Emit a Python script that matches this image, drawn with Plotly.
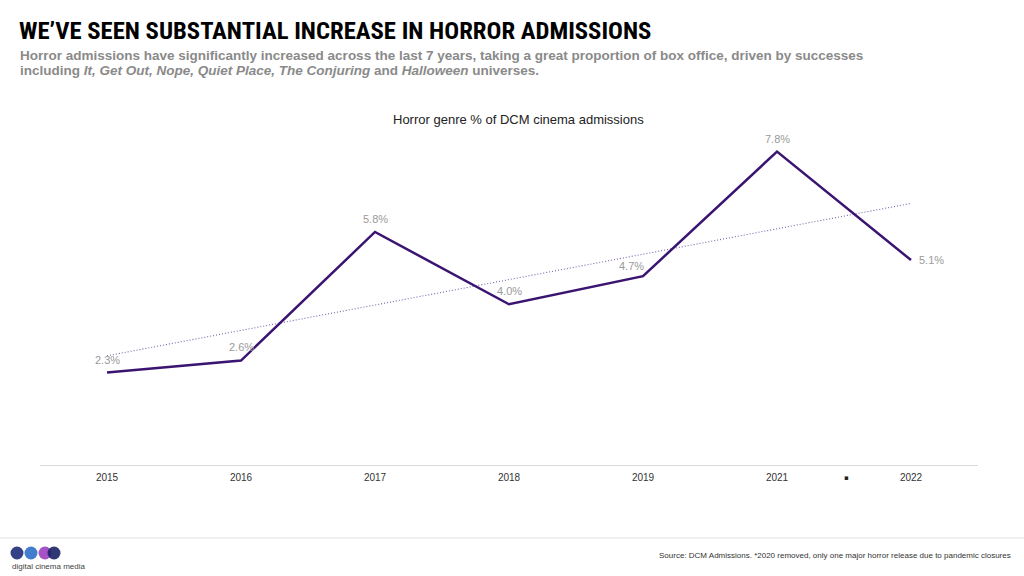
import numpy as np
import plotly.graph_objects as go

years = ["2015", "2016", "2017", "2018", "2019", "2021", "2022"]
share = [2.3, 2.6, 5.8, 4.0, 4.7, 7.8, 5.1]
label_dx = [0, 0, 0, 0, -12, 0, 6]
label_dy = [13, 14, 13, 13, 10, 13, 0]
label_anchor = ["center", "center", "center", "center", "center", "center", "left"]

W, H = 1024, 576
def px(x): return x / W
def py(y): return 1 - y / H

xi = np.arange(len(years))
slope, intercept = np.polyfit(xi, share, 1)
trend = intercept + slope * xi

fig = go.Figure()
fig.add_trace(go.Scatter(
    x=xi, y=trend, mode="lines",
    line=dict(color="#7a62a8", width=1.1, dash="1px,2px"),
    hoverinfo="skip", showlegend=False))
fig.add_trace(go.Scatter(
    x=xi, y=share, mode="lines",
    line=dict(color="#3a1470", width=2.5),
    showlegend=False))

annotations = [
    dict(text="<b>WE\u2019VE SEEN SUBSTANTIAL INCREASE IN HORROR ADMISSIONS</b>",
         x=px(17), y=py(30), xref="paper", yref="paper", xanchor="left", yanchor="middle",
         showarrow=False,
         font=dict(family="Roboto Condensed, Roboto", size=24.7, color="#000000"),
         ),
    dict(text="<b>Horror admissions have significantly increased across the last 7 years, taking a great proportion of box office, driven by successes</b>",
         x=px(18), y=py(56), xref="paper", yref="paper", xanchor="left", yanchor="middle",
         showarrow=False, font=dict(family="Liberation Sans, Arial", size=13.5, color="#8a8a8a")),
    dict(text="<b>including <i>It, Get Out, Nope, Quiet Place, The Conjuring</i> and <i>Halloween</i> universes.</b>",
         x=px(18), y=py(71), xref="paper", yref="paper", xanchor="left", yanchor="middle",
         showarrow=False, font=dict(family="Liberation Sans, Arial", size=13.5, color="#8a8a8a")),
    dict(text="Horror genre % of DCM cinema admissions",
         x=px(518), y=py(119), xref="paper", yref="paper", xanchor="center", yanchor="middle",
         showarrow=False, font=dict(family="Liberation Sans, Arial", size=13, color="#222222")),
    dict(text="Source: DCM Admissions. *2020 removed, only one major horror release due to pandemic closures",
         x=px(1013), y=py(555), xref="paper", yref="paper", xanchor="right", yanchor="middle",
         showarrow=False, font=dict(family="Liberation Sans, Arial", size=8, color="#333333")),
    dict(text="digital cinema media",
         x=px(10), y=py(566), xref="paper", yref="paper", xanchor="left", yanchor="middle",
         showarrow=False, font=dict(family="Liberation Sans, Arial", size=8, color="#444444")),
    dict(text="\u25aa", x=5.52, y=py(478), xref="x", yref="paper", xanchor="center", yanchor="middle",
         showarrow=False, font=dict(family="DejaVu Sans", size=7, color="#222222")),
]
for i, v, dx, dy, anc in zip(xi, share, label_dx, label_dy, label_anchor):
    annotations.append(dict(text=f"{v:.1f}%", x=int(i), y=v, xref="x", yref="y",
                            xanchor=anc, yanchor="middle", xshift=dx, yshift=dy,
                            showarrow=False,
                            font=dict(family="Liberation Sans, Arial", size=11, color="#9a9a9a")))

shapes = [
    dict(type="line", xref="paper", yref="paper", x0=0, x1=1, y0=py(538), y1=py(538),
         line=dict(color="#e3e3e3", width=1)),
]
logo = [(17, "#1e2d78"), (31, "#2f6fc9"), (45, "#9a3fbf"), (54, "#1b2466")]
for cx, col in logo:
    r = 6.5
    shapes.append(dict(type="circle", xref="paper", yref="paper",
                       x0=px(cx - r), x1=px(cx + r), y0=py(553 + r), y1=py(553 - r),
                       fillcolor=col, line=dict(width=0), opacity=0.9))

fig.update_layout(
    width=W, height=H,
    margin=dict(l=0, r=0, t=0, b=0),
    paper_bgcolor="white", plot_bgcolor="white",
    annotations=annotations, shapes=shapes,
    xaxis=dict(domain=[px(40), px(978)], range=[-0.5, 6.5],
               tickmode="array", tickvals=xi, ticktext=years,
               showgrid=False, zeroline=False, showline=True, linecolor="#d9d9d9", linewidth=1,
               ticks="outside", ticklen=3, tickcolor="rgba(0,0,0,0)",
               tickfont=dict(family="Liberation Sans, Arial", size=10, color="#333333"),
               fixedrange=True),
    yaxis=dict(domain=[py(465), py(125)], range=[0, (465 - 125) / 40.18],
               visible=False, fixedrange=True),
)

fig.write_html("out.html", config={"displayModeBar": False},
               post_script="document.body.style.margin='0';document.body.style.padding='0';")
